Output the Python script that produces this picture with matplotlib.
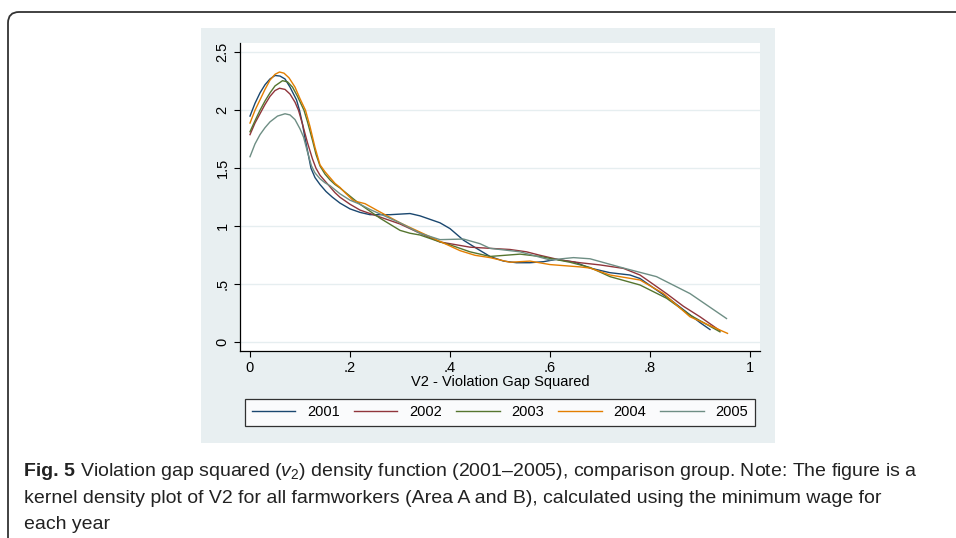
import numpy as np
import matplotlib.pyplot as plt
from matplotlib.patches import FancyBboxPatch, Rectangle
from matplotlib.transforms import IdentityTransform

plt.rcParams['font.family'] = ['Liberation Sans', 'DejaVu Sans']
plt.rcParams['mathtext.fontset'] = 'custom'
plt.rcParams['mathtext.rm'] = 'Liberation Sans'
plt.rcParams['mathtext.it'] = 'Liberation Sans:italic'

# kernel density curves
years = ['2001', '2002', '2003', '2004', '2005']
colors = ['#1a476f', '#90353b', '#55752f', '#e37e00', '#6e8e84']

x_2001 = [0, 0.01, 0.02, 0.03, 0.04, 0.05, 0.06, 0.07, 0.08, 0.093, 0.099, 0.105, 0.11, 0.116,
          0.122, 0.13, 0.14, 0.152, 0.165, 0.18, 0.20, 0.22, 0.24, 0.28, 0.32, 0.34, 0.36, 0.38,
          0.40, 0.427, 0.453, 0.48, 0.507, 0.533, 0.56, 0.587, 0.613, 0.65, 0.68, 0.72, 0.76,
          0.78, 0.80, 0.82, 0.84, 0.87, 0.90, 0.92]
y_2001 = [1.95, 2.06, 2.15, 2.22, 2.27, 2.30, 2.295, 2.27, 2.20, 2.09, 2.00, 1.88, 1.76, 1.63,
          1.50, 1.42, 1.36, 1.30, 1.25, 1.20, 1.15, 1.12, 1.10, 1.10, 1.11, 1.09, 1.06, 1.03,
          0.98, 0.88, 0.81, 0.74, 0.70, 0.686, 0.686, 0.695, 0.715, 0.69, 0.64, 0.60, 0.58,
          0.55, 0.49, 0.43, 0.37, 0.27, 0.17, 0.11]

x_2002 = [0, 0.01, 0.02, 0.03, 0.04, 0.05, 0.059, 0.07, 0.08, 0.09, 0.097, 0.105, 0.115, 0.125,
          0.132, 0.14, 0.15, 0.16, 0.17, 0.18, 0.20, 0.22, 0.26, 0.30, 0.34, 0.38, 0.40, 0.44,
          0.48, 0.52, 0.553, 0.58, 0.62, 0.66, 0.70, 0.747, 0.78, 0.80, 0.833, 0.867, 0.90, 0.94]
y_2002 = [1.79, 1.89, 1.97, 2.05, 2.12, 2.17, 2.19, 2.18, 2.14, 2.07, 2.00, 1.88, 1.72, 1.58,
          1.50, 1.44, 1.39, 1.34, 1.29, 1.25, 1.19, 1.14, 1.08, 1.02, 0.94, 0.865, 0.85, 0.82,
          0.81, 0.80, 0.78, 0.75, 0.71, 0.686, 0.667, 0.637, 0.58, 0.52, 0.42, 0.31, 0.22, 0.10]

x_2003 = [0, 0.01, 0.02, 0.03, 0.04, 0.05, 0.065, 0.075, 0.085, 0.095, 0.108, 0.115, 0.125, 0.132,
          0.14, 0.15, 0.16, 0.17, 0.18, 0.20, 0.22, 0.26, 0.30, 0.32, 0.34, 0.38, 0.40, 0.44, 0.48,
          0.54, 0.58, 0.64, 0.68, 0.72, 0.78, 0.833, 0.88, 0.94]
y_2003 = [1.815, 1.91, 2.00, 2.08, 2.15, 2.21, 2.255, 2.245, 2.20, 2.12, 2.00, 1.90, 1.74, 1.62,
          1.52, 1.45, 1.40, 1.36, 1.33, 1.26, 1.19, 1.07, 0.965, 0.94, 0.925, 0.865, 0.84, 0.78,
          0.74, 0.76, 0.74, 0.69, 0.645, 0.566, 0.494, 0.38, 0.235, 0.09]

x_2004 = [0, 0.01, 0.02, 0.03, 0.04, 0.05, 0.059, 0.068, 0.078, 0.09, 0.10, 0.111, 0.12, 0.13,
          0.14, 0.15, 0.16, 0.17, 0.18, 0.19, 0.207, 0.23, 0.253, 0.30, 0.34, 0.38, 0.42, 0.45,
          0.48, 0.52, 0.56, 0.60, 0.66, 0.68, 0.72, 0.78, 0.827, 0.88, 0.955]
y_2004 = [1.89, 2.00, 2.09, 2.18, 2.26, 2.31, 2.33, 2.32, 2.28, 2.20, 2.10, 2.00, 1.86, 1.68,
          1.53, 1.47, 1.42, 1.37, 1.335, 1.29, 1.22, 1.195, 1.14, 1.03, 0.95, 0.87, 0.79, 0.75,
          0.73, 0.69, 0.70, 0.67, 0.65, 0.64, 0.58, 0.537, 0.42, 0.22, 0.077]

x_2005 = [0, 0.01, 0.02, 0.03, 0.04, 0.055, 0.07, 0.08, 0.09, 0.10, 0.107, 0.115, 0.123, 0.13,
          0.14, 0.15, 0.16, 0.18, 0.20, 0.22, 0.24, 0.30, 0.34, 0.38, 0.427, 0.46, 0.48, 0.54,
          0.60, 0.647, 0.68, 0.747, 0.813, 0.88, 0.953]
y_2005 = [1.60, 1.71, 1.79, 1.85, 1.90, 1.95, 1.97, 1.96, 1.92, 1.84, 1.77, 1.64, 1.52, 1.46,
          1.41, 1.375, 1.35, 1.28, 1.225, 1.19, 1.145, 1.03, 0.94, 0.885, 0.89, 0.85, 0.81, 0.78,
          0.71, 0.73, 0.72, 0.64, 0.566, 0.42, 0.205]

xs = [x_2001, x_2002, x_2003, x_2004, x_2005]
ys = [y_2001, y_2002, y_2003, y_2004, y_2005]

xtick_vals = [0, 0.2, 0.4, 0.6, 0.8, 1]
xtick_labels = ['0', '.2', '.4', '.6', '.8', '1']
ytick_vals = [0, 0.5, 1, 1.5, 2, 2.5]
ytick_labels = ['0', '.5', '1', '1.5', '2', '2.5']

caption_bold = 'Fig. 5'
caption_lines = [' Violation gap squared ($\\mathit{v}_2$) density function (2001\u20132005), comparison group. Note: The figure is a',
                 'kernel density plot of V2 for all farmworkers (Area A and B), calculated using the minimum wage for',
                 'each year']

W, H = 956, 538
fig = plt.figure(figsize=(W / 100, H / 100), dpi=100)

# rounded outer frame (article box)
frame = FancyBboxPatch((8, -200), 1200, H - 12 + 200, boxstyle='round,pad=0,rounding_size=11',
                       transform=IdentityTransform(), facecolor='none', edgecolor='#333333', linewidth=1.3)
fig.add_artist(frame)

# stata graph region
fig.add_artist(Rectangle((201 / W, 1 - 443 / H), (775 - 201) / W, (443 - 28) / H,
                         transform=fig.transFigure, facecolor='#e8eff1', edgecolor='none', zorder=0))

ax = fig.add_axes([240 / W, 1 - 351 / H, 520 / W, 308 / H])
ax.set_facecolor('white')
for i in range(len(years)):
    ax.plot(xs[i], ys[i], color=colors[i], linewidth=1.0, label=years[i])

ax.set_xlim(-0.02, 1.02)
ax.set_ylim(-0.075, 2.58)
ax.set_xticks(xtick_vals)
ax.set_xticklabels(xtick_labels)
ax.set_yticks(ytick_vals)
ax.set_yticklabels(ytick_labels, rotation=90, va='center')
ax.tick_params(direction='out', length=4.5, width=0.8, labelsize=10.5, pad=3)
ax.grid(axis='y', color='#e6eef0', linewidth=1.0)
ax.set_axisbelow(True)
for s in ['top', 'right']:
    ax.spines[s].set_visible(False)
for s in ['left', 'bottom']:
    ax.spines[s].set_linewidth(0.9)
ax.set_xlabel('V2 - Violation Gap Squared', fontsize=10.5, labelpad=0)

leg = ax.legend(loc='lower left', bbox_to_anchor=(245 / W, 1 - 426 / H, 510 / W, 28 / H),
                bbox_transform=fig.transFigure, ncol=5, mode='expand', borderaxespad=0,
                fancybox=False, edgecolor='black', handlelength=3.0, fontsize=10.5,
                borderpad=0.45, handletextpad=0.8)
leg.get_frame().set_linewidth(0.9)

# caption
cap_font = ['Liberation Sans', 'DejaVu Sans']
baselines = [476, 503, 529]
t0 = fig.text(24 / W, 1 - baselines[0] / H, caption_bold, fontweight='bold', fontsize=14,
              family=cap_font, va='baseline', color='#222222')
renderer = fig.canvas.get_renderer()
x1 = t0.get_window_extent(renderer).x1 / W
fig.text(x1, 1 - baselines[0] / H, caption_lines[0], fontsize=14, family=cap_font,
         va='baseline', color='#222222')
for k in range(1, 3):
    fig.text(24 / W, 1 - baselines[k] / H, caption_lines[k], fontsize=14, family=cap_font,
             va='baseline', color='#222222')

fig.savefig('out.png', dpi=100)
